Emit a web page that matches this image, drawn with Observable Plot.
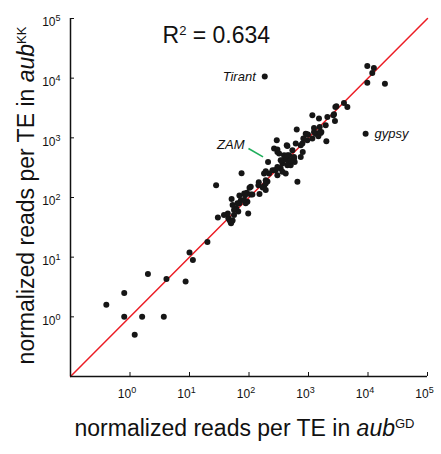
<!DOCTYPE html>
<html><head><meta charset="utf-8">
<script src="https://cdn.jsdelivr.net/npm/d3@7"></script>
<script src="https://cdn.jsdelivr.net/npm/@observablehq/plot@0.6"></script>
<style>body{margin:0;background:#fff}svg{display:block}</style>
</head><body><div id="chart"></div>
<script>
// normalized reads per TE in aub GD (x) and aub KK (y)
const gdReads = [0.4,0.8,0.8,1.2,1.6,2.0,3.7,4.1,8.6,10,11.4,20,
  30,28,75,47,50,45,53,56,61,66,69,73,51,69,83,94,97,102,114,88,146,150,179,191,204,209,217,271,300,341,365,414,442,471,502,586,651,740,800,300,
  264,740,388,537,320,571,365,53,64,83,92,107,179,191,248,300,365,414,442,44,38,1410,1645,1238,982,300,
  293,431,610,634,789,820,898,955,1161,1161,1320,1465,1560,1500,1945,1995,2075,2617,2827,3946,4500,9120,184,9730,12560,11800,9730,19240,2940,2680,1542,1238,1602,933,442,2785,
  49,56,86,107,144,170,191,191,281,341,442,502,571];
const kkReads = [1.6,2.5,1.0,0.5,1.0,5.2,1.0,4.3,3.9,12,9.0,18,
  46,160,256,42,37,45,41,51,66,58,80,90,94,108,117,85,54,145,112,80,181,114,155,133,186,395,253,287,237,307,372,253,422,511,348,395,183,479,581,581,
  662,752,511,621,546,451,422,75,80,91,120,151,253,195,287,326,269,479,348,54,51,1175,1258,1465,1135,640,
  911,752,803,1377,803,973,1175,912,973,2388,1175,1063,1258,2100,1623,878,2230,2388,3290,3838,3290,1175,10700,15950,14780,12170,8410,8090,3375,2485,1516,1258,1200,1148,733,1918,
  39,62,109,112,161,147,172,275,287,422,511,422,479];

// labelled transposable elements
const teNames = ["Tirant", "gypsy", "ZAM"];
const teX = [184, 9120, 209];
const teY = [10700, 1175, 395];

// ZAM pointer (start, end)
const zamArrowX = [98, 172];
const zamArrowY = [662, 480];

// axis
const axisDomain = [0.1, 100000];
const tickValues = [1, 10, 100, 1000, 10000, 100000];
const tickExponents = ["0", "1", "2", "3", "4", "5"];
const rSquared = "0.634";

const points = gdReads.map((x, i) => ({x, y: kkReads[i]}));
const teLabels = teNames.map((name, i) => ({name, x: teX[i], y: teY[i]}));
const diagonal = axisDomain.map(v => ({x: v, y: v}));
const fmt = d => "10^" + tickExponents[tickValues.indexOf(d)];

const W = 441, H = 454, mL = 70, mR = 14, mT = 18, mB = 78;
const fw = W - mL - mR, fh = H - mT - mB;
const FONT = "'Liberation Sans', Arial, Helvetica, sans-serif";

const chart = Plot.plot({
  width: W, height: H,
  marginLeft: mL, marginRight: mR, marginTop: mT, marginBottom: mB,
  style: {fontFamily: FONT, background: "#fff", color: "#111"},
  x: {type: "log", domain: axisDomain},
  y: {type: "log", domain: axisDomain},
  marks: [
    Plot.line(diagonal, {x: "x", y: "y", stroke: "#ec1c24", strokeWidth: 1.5}),
    Plot.ruleX([axisDomain[0]], {stroke: "#111", strokeWidth: 1.5}),
    Plot.ruleY([axisDomain[0]], {stroke: "#111", strokeWidth: 1.5}),
    Plot.ruleX(tickValues, {stroke: "#111", strokeWidth: 1, insetTop: fh - 4}),
    Plot.ruleY(tickValues, {stroke: "#111", strokeWidth: 1, insetRight: fw - 4}),
    Plot.axisX({ticks: tickValues, tickSize: 0, tickPadding: 13, tickFormat: fmt, fontSize: 12, dx: -3, label: null}),
    Plot.axisY({ticks: tickValues, tickSize: 0, tickPadding: 10, tickFormat: fmt, fontSize: 12, dy: 4, label: null}),
    Plot.dot(points, {x: "x", y: "y", r: 3, fill: "#161616", stroke: null}),
    Plot.link([0], {x1: () => zamArrowX[0], y1: () => zamArrowY[0], x2: () => zamArrowX[1], y2: () => zamArrowY[1], stroke: "#1fae5b", strokeWidth: 1.6}),
    Plot.text(teLabels.filter(d => d.name === "Tirant"), {x: "x", y: "y", text: "name", textAnchor: "end", dx: -9, fontSize: 13, fontStyle: "italic", fill: "#111"}),
    Plot.text(teLabels.filter(d => d.name === "gypsy"), {x: "x", y: "y", text: "name", textAnchor: "start", dx: 9, fontSize: 13, fontStyle: "italic", fill: "#111"}),
    Plot.text([0], {x: () => zamArrowX[0], y: () => zamArrowY[0], text: () => "ZAM", textAnchor: "end", dx: -4, dy: -3.5, fontSize: 13, fontStyle: "italic", fill: "#111"}),
    Plot.text(["R2 = " + rSquared], {frameAnchor: "top-left", textAnchor: "start", dx: 92, dy: 8, fontSize: 23, fill: "#111"}),
    Plot.text(["XTITLE"], {frameAnchor: "bottom", textAnchor: "middle", dx: -4.5, dy: 59, fontSize: 23, fill: "#111"}),
    Plot.text(["YTITLE"], {frameAnchor: "left", textAnchor: "middle", rotate: -90, dx: -44, dy: -2, fontSize: 23, fill: "#111"})
  ]
});
document.getElementById("chart").append(chart);

// rich text: superscripts and italics
const svg = d3.select(chart);
svg.selectAll("text").each(function () {
  const t = d3.select(this);
  const s = t.text();
  if (/^10\^\d$/.test(s)) {
    const e = s.split("^")[1];
    t.text(null);
    t.append("tspan").text("10");
    t.append("tspan").attr("dy", -5).attr("font-size", 9).text(e);
  } else if (s.startsWith("R2 = ")) {
    t.text(null);
    t.append("tspan").text("R");
    t.append("tspan").attr("dy", -8).attr("font-size", 13).text("2");
    t.append("tspan").attr("dy", 8).text(" = " + rSquared);
  } else if (s === "XTITLE" || s === "YTITLE") {
    const sup = s === "XTITLE" ? "GD" : "KK";
    t.text(null);
    t.append("tspan").text("normalized reads per TE in ");
    t.append("tspan").attr("font-style", "italic").text("aub");
    t.append("tspan").attr("dy", -8).attr("font-size", 13).text(sup);
  }
});
</script>
</body></html>
